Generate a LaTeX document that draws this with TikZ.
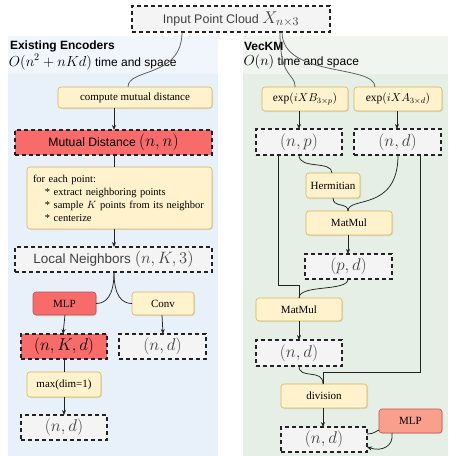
\RequirePackage{fix-cm}
\documentclass[tikz,border=0pt]{standalone}
\usepackage{fontspec}
\setmainfont{Liberation Serif}
\setsansfont{Liberation Sans}
\usetikzlibrary{arrows.meta,shadows}

\definecolor{leftbody}{HTML}{E8F0FA}
\definecolor{lefthead}{HTML}{F1F5FC}
\definecolor{rightbody}{HTML}{E6EFE6}
\definecolor{righthead}{HTML}{F1F5F0}
\definecolor{ylwfill}{HTML}{FFF2CC}
\definecolor{ylwline}{HTML}{D6B656}
\definecolor{redfill}{HTML}{F86B6B}
\definecolor{redline}{HTML}{B85450}
\definecolor{salmon}{HTML}{F9A08C}
\definecolor{grayfill}{HTML}{F4F4F4}
\definecolor{edge}{HTML}{222222}

% math set at a given point size inside a text line
\newcommand\mathat[2]{{\fontsize{#1}{#1}\selectfont$#2$}}

\begin{document}
\begin{tikzpicture}[x=1pt,y=-1pt,
  every node/.style={inner sep=0pt, outer sep=0pt},
  yel/.style={draw=ylwline, fill=ylwfill, rounded corners=3pt, line width=0.6pt,
    font=\fontsize{11}{13}\selectfont,
    drop shadow={opacity=0.18, shadow xshift=1pt, shadow yshift=-1pt}},
  redbox/.style={draw=redline, fill=redfill, rounded corners=3pt, line width=0.6pt,
    font=\fontsize{11}{13}\selectfont,
    drop shadow={opacity=0.18, shadow xshift=1pt, shadow yshift=-1pt}},
  dbox/.style={draw=edge, fill=grayfill, dash pattern=on 4pt off 3pt, line width=1.3pt,
    font=\fontsize{17}{19}\selectfont, text=black!75},
  dred/.style={dbox, fill=redfill, text=black},
  conn/.style={draw=edge, line width=0.75pt},
  arr/.style={conn, -{Stealth[length=5pt,width=4pt]}},
  heading/.style={anchor=west, font=\sffamily\bfseries\fontsize{12}{14}\selectfont},
  subhead/.style={anchor=west, font=\sffamily\fontsize{12}{14}\selectfont}
]
\useasboundingbox (0,0) rectangle (448,456);

% ---- panels ----
\fill[leftbody] (8,36) rectangle (218,456);
\fill[lefthead] (8,36) rectangle (218,74);
\fill[rightbody] (243,36) rectangle (448,456);
\fill[righthead] (243,36) rectangle (448,74);

\node[heading] (lh) at (10,46) {Existing Encoders};
\node[subhead] (ls) at (9,62) {\mathat{14.5}{O(n^2+nKd)} time and space};
\node[heading] (rh) at (244,46) {VecKM};
\node[subhead] (rs) at (243.5,62) {\mathat{14.5}{O(n)} time and space};

% ---- input ----
\node[dbox, font=\sffamily\fontsize{12.5}{14}\selectfont, minimum width=198, minimum height=26] (input) at (231,19) {Input Point Cloud \mathat{17}{X_{n\times 3}}};

% ---- existing encoders ----
\node[yel, minimum width=154, minimum height=21] (cmd) at (135,97.5) {compute mutual distance};
\node[dred, font=\sffamily\fontsize{12.2}{15}\selectfont, minimum width=197, minimum height=25] (mutual) at (113.5,142.5) {Mutual Distance \mathat{17}{(n,n)}};
\node[yel, font=\fontsize{10.5}{13}\selectfont, minimum height=62, text width=173, inner xsep=6pt, align=left] (foreach) at (119.5,198)
  {for each point:\\
   \hspace*{12pt}* extract neighboring points\\
   \hspace*{12pt}* sample $K$ points from its neighbor\\
   \hspace*{12pt}* centerize};
\node[dbox, font=\sffamily\fontsize{13.5}{15}\selectfont, minimum width=197, minimum height=25] (local) at (113.5,259.5) {Local Neighbors \mathat{16.5}{(n,K,3)}};
\node[redbox, minimum width=63, minimum height=23] (mlpl) at (64.5,303.5) {MLP};
\node[yel, minimum width=62, minimum height=23] (conv) at (163,303.5) {Conv};
\node[dred, minimum width=86, minimum height=25] (nkd) at (64,346.5) {$(n,K,d)$};
\node[dbox, minimum width=87, minimum height=25] (ndconv) at (162.5,346.5) {$(n,d)$};
\node[yel, minimum width=74, minimum height=25] (maxd) at (64,384.5) {max(dim=1)};
\node[dbox, minimum width=86, minimum height=25] (ndmax) at (64,427.5) {$(n,d)$};

% ---- VecKM ----
\node[yel, font=\fontsize{11.5}{13}\selectfont, minimum width=86, minimum height=24] (expb) at (305,99) {$\exp(iXB_{3\times p})$};
\node[yel, font=\fontsize{11.5}{13}\selectfont, minimum width=88, minimum height=24] (expa) at (398,99) {$\exp(iXA_{3\times d})$};
\node[dbox, minimum width=86, minimum height=26] (np) at (299,142) {$(n,p)$};
\node[dbox, minimum width=87, minimum height=26] (nda) at (397.5,142) {$(n,d)$};
\node[yel, minimum width=54, minimum height=25] (herm) at (333,185.5) {Hermitian};
\node[yel, minimum width=86, minimum height=24] (mm1) at (349,223) {MatMul};
\node[dbox, minimum width=87, minimum height=25] (pd) at (348.5,266.5) {$(p,d)$};
\node[yel, minimum width=86, minimum height=23] (mm2) at (299,309.5) {MatMul};
\node[dbox, minimum width=86, minimum height=26] (ndm) at (299,353) {$(n,d)$};
\node[yel, minimum width=86, minimum height=24] (divi) at (324,396) {division};
\node[dbox, minimum width=86, minimum height=25] (ndout) at (324,439.5) {$(n,d)$};
\node[redbox, fill=salmon, minimum width=63, minimum height=24] (mlpr) at (410.5,421) {MLP};

% ---- connectors: input ----
\draw[conn, draw=black!65] (input.south -| 182,0) .. controls (182,78) and (128,68) .. (cmd.north -| 128,0);
\draw[conn, draw=black!65] (input.south -| 280,0) .. controls (280,80) and (295,72) .. (expb.north -| 295,0);
\draw[conn, draw=black!65] (input.south -| 282,0) .. controls (282,78) and (375,64) .. (expa.north -| 375,0);

% ---- connectors: existing encoders ----
\draw[arr] (cmd.south -| 114,0) -- (mutual.north -| 114,0);
\draw[conn] (mutual.south -| 114,0) -- (foreach.north -| 114,0);
\draw[arr] (foreach.south -| 114,0) -- (local.north -| 114,0);
\draw[conn] (local.south -| 114,0) .. controls (114,296) and (106,303.5) .. (mlpl.east);
\draw[conn] (local.south -| 114,0) .. controls (114,296) and (122,303.5) .. (conv.west);
\draw[arr] (mlpl.south -| 65,0) -- (nkd.north -| 63,0);
\draw[arr] (conv.south -| 162,0) -- (ndconv.north -| 163,0);
\draw[conn] (nkd.south -| 64,0) -- (maxd.north -| 64,0);
\draw[arr] (maxd.south -| 64,0) -- (ndmax.north -| 64,0);

% ---- connectors: VecKM ----
\draw[arr] (expb.south -| 299,0) -- (np.north -| 299,0);
\draw[arr] (expa.south -| 397,0) -- (nda.north -| 397,0);
\draw[conn] (np.south -| 299,0) .. controls (299,170) and (332,160) .. (herm.north -| 332,0);
\draw[conn] (herm.south -| 333,0) .. controls (333,208) and (348,202) .. (mm1.north -| 348,0);
\draw[conn] (nda.south -| 398,0) .. controls (398,212) and (348,196) .. (mm1.north -| 348,0);
\draw[arr] (mm1.south -| 348,0) -- (pd.north -| 348,0);
\coordinate (c1) at (278,285);
\coordinate (c2) at (299,285);
\draw[conn] (np.south -| 278,0) -- (c1) -- (c2) -- (mm2.north -| 299,0);
\draw[conn] (pd.south -| 348,0) .. controls (348,292) and (299,284) .. (mm2.north -| 299,0);
\draw[arr] (mm2.south -| 299,0) -- (ndm.north -| 299,0);
\coordinate (c3) at (420,372);
\coordinate (c4) at (323,372);
\draw[conn] (nda.south -| 420,0) -- (c3) -- (c4) -- (divi.north -| 323,0);
\draw[conn] (ndm.south -| 299,0) .. controls (299,380) and (323,368) .. (divi.north -| 323,0);
\draw[arr] (divi.south -| 323,0) -- (ndout.north -| 323,0);
\draw[conn] (ndout.east |- 0,434) .. controls (374,434) and (376,431) .. (mlpr.west |- 0,430);
\draw[arr] (mlpr.south -| 392,0) .. controls (394,446) and (382,452) .. (ndout.east |- 0,447);
\end{tikzpicture}
\end{document}
